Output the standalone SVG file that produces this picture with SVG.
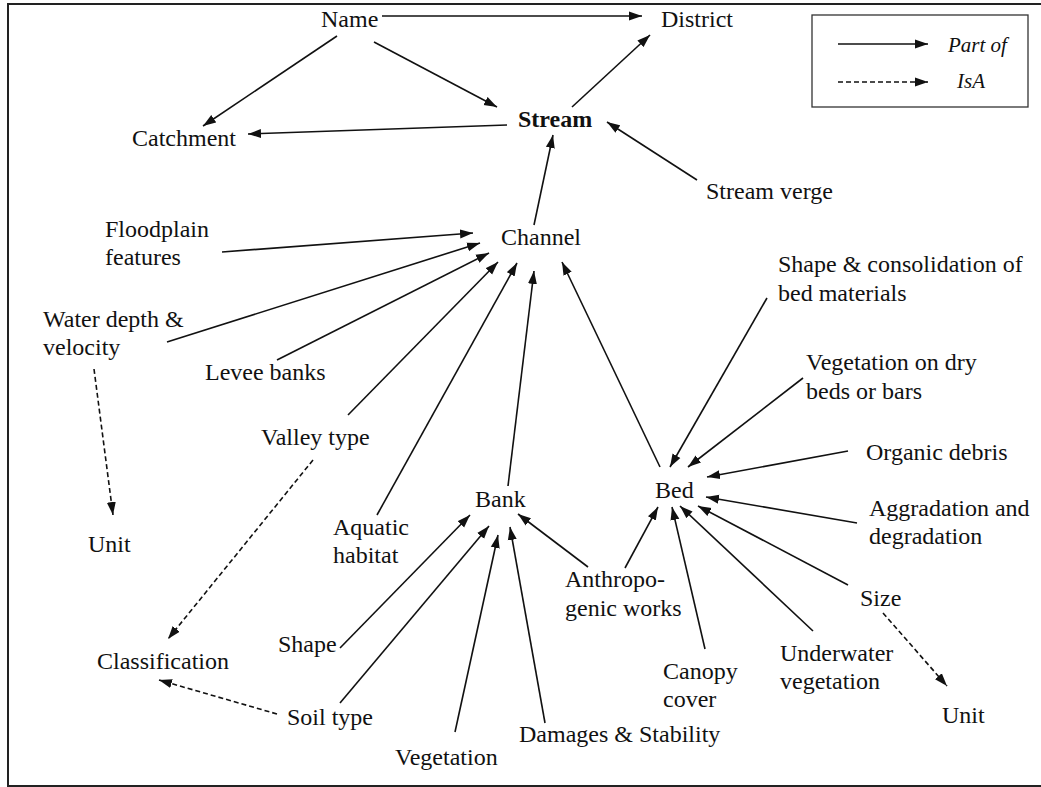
<svg xmlns="http://www.w3.org/2000/svg" width="1041" height="787" viewBox="0 0 1041 787">
<style>
text{font-family:"Liberation Serif","Times New Roman",serif;font-size:24px;fill:#111}
.b{font-weight:bold}
.i{font-style:italic;font-size:21px}
.c line{stroke:#111;stroke-width:1.6;fill:none;marker-end:url(#ah)}
.c line.d{stroke-dasharray:5,3}
</style>
<defs>
<marker id="ah" markerUnits="userSpaceOnUse" markerWidth="14" markerHeight="10" refX="13" refY="5" orient="auto">
<path d="M0,0.5 L13,5 L0,9.5 z" fill="#111"/>
</marker>
</defs>
<rect width="1041" height="787" fill="#fff"/>
<path d="M1041,4 H8 V786 H1041" fill="none" stroke="#222" stroke-width="2"/>
<g id="legend">
<rect x="812" y="15" width="216" height="92" fill="none" stroke="#333" stroke-width="1.3"/>
<g class="c">
<line x1="838" y1="44" x2="928" y2="44"/>
<line class="d" x1="838" y1="82" x2="928" y2="82"/>
</g>
<text class="i" x="948" y="52">Part of</text>
<text class="i" x="957" y="88">IsA</text>
</g>
<g id="connectors" class="c">
<line x1="382" y1="16" x2="642" y2="16"/>
<line x1="337" y1="36" x2="203" y2="126"/>
<line x1="374" y1="42" x2="497" y2="107"/>
<line x1="507" y1="125" x2="248" y2="134"/>
<line x1="572" y1="107" x2="650" y2="35"/>
<line x1="534" y1="225" x2="553" y2="135"/>
<line x1="697" y1="180" x2="607" y2="122"/>
<line x1="222" y1="252" x2="473" y2="233"/>
<line x1="167" y1="342" x2="480" y2="243"/>
<line x1="277" y1="360" x2="489" y2="253"/>
<line x1="348" y1="415" x2="498" y2="262"/>
<line x1="377" y1="515" x2="517" y2="263"/>
<line x1="508" y1="486" x2="534" y2="271"/>
<line x1="660" y1="467" x2="562" y2="262"/>
<line class="d" x1="94" y1="369" x2="113" y2="515"/>
<line class="d" x1="313" y1="460" x2="168" y2="639"/>
<line class="d" x1="277" y1="714" x2="159" y2="680"/>
<line x1="340" y1="648" x2="470" y2="515"/>
<line x1="340" y1="703" x2="489" y2="526"/>
<line x1="455" y1="732" x2="498" y2="535"/>
<line x1="545" y1="723" x2="510" y2="527"/>
<line x1="588" y1="567" x2="518" y2="514"/>
<line x1="625" y1="568" x2="658" y2="507"/>
<line x1="705" y1="649" x2="672" y2="507"/>
<line x1="813" y1="631" x2="680" y2="506"/>
<line x1="848" y1="585" x2="698" y2="506"/>
<line x1="857" y1="523" x2="706" y2="497"/>
<line x1="848" y1="451" x2="707" y2="477"/>
<line x1="767" y1="298" x2="670" y2="467"/>
<line x1="803" y1="378" x2="688" y2="467"/>
<line class="d" x1="883" y1="613" x2="947" y2="686"/>
</g>
<g id="name"><text x="321" y="27">Name</text></g>
<g id="district"><text x="661" y="27">District</text></g>
<g id="catchment"><text x="132" y="146">Catchment</text></g>
<g id="stream"><text class="b" x="518" y="127">Stream</text></g>
<g id="stream-verge"><text x="706" y="199">Stream verge</text></g>
<g id="channel"><text x="501" y="245">Channel</text></g>
<g id="floodplain"><text x="105" y="237">Floodplain</text><text x="105" y="265">features</text></g>
<g id="water-depth"><text x="43" y="327">Water depth &amp;</text><text x="43" y="355">velocity</text></g>
<g id="levee"><text x="205" y="380">Levee banks</text></g>
<g id="valley"><text x="261" y="445">Valley type</text></g>
<g id="unit-left"><text x="88" y="552">Unit</text></g>
<g id="aquatic"><text x="333" y="535">Aquatic</text><text x="333" y="563">habitat</text></g>
<g id="bank"><text x="475" y="507">Bank</text></g>
<g id="bed"><text x="655" y="498">Bed</text></g>
<g id="shape-consolidation"><text x="778" y="272">Shape &amp; consolidation of</text><text x="778" y="301">bed materials</text></g>
<g id="veg-dry"><text x="806" y="370">Vegetation on dry</text><text x="806" y="399">beds or bars</text></g>
<g id="organic"><text x="866" y="460">Organic debris</text></g>
<g id="aggradation"><text x="869" y="516">Aggradation and</text><text x="869" y="544">degradation</text></g>
<g id="anthropogenic"><text x="565" y="587">Anthropo-</text><text x="565" y="616">genic works</text></g>
<g id="size"><text x="860" y="606">Size</text></g>
<g id="canopy"><text x="663" y="679">Canopy</text><text x="663" y="707">cover</text></g>
<g id="underwater"><text x="780" y="661">Underwater</text><text x="780" y="689">vegetation</text></g>
<g id="unit-right"><text x="942" y="723">Unit</text></g>
<g id="shape"><text x="278" y="652">Shape</text></g>
<g id="classification"><text x="97" y="669">Classification</text></g>
<g id="soil"><text x="287" y="725">Soil type</text></g>
<g id="vegetation"><text x="395" y="765">Vegetation</text></g>
<g id="damages"><text x="519" y="742">Damages &amp; Stability</text></g>
</svg>
